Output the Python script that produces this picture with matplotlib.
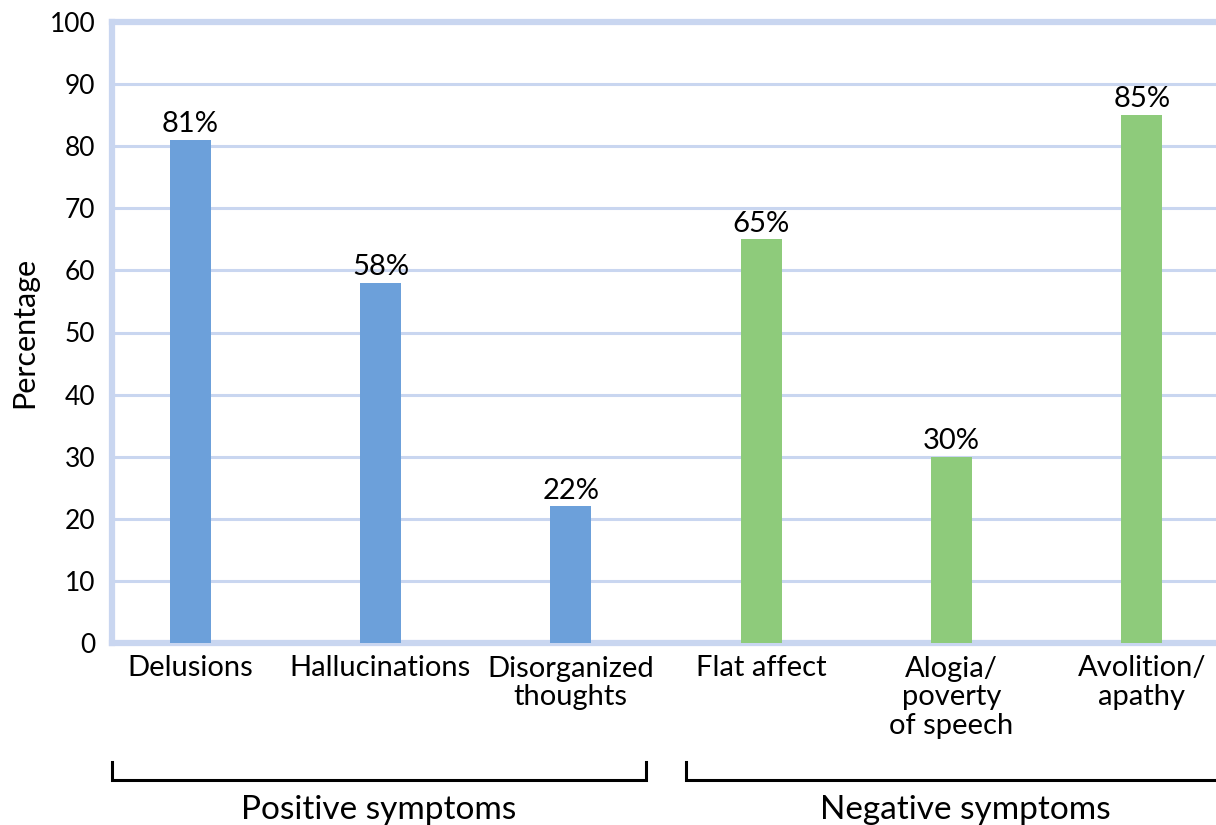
import matplotlib
matplotlib.use("Agg")
import matplotlib.pyplot as plt

# data
categories = ["Delusions", "Hallucinations", "Disorganized\nthoughts",
              "Flat affect", "Alogia/\npoverty\nof speech", "Avolition/\napathy"]
values = [81, 58, 22, 65, 30, 85]
groups = ["pos", "pos", "pos", "neg", "neg", "neg"]
group_names = ["Positive symptoms", "Negative symptoms"]

BLUE, GREEN = "#6ca0da", "#8ecb7b"
FRAME = "#c9d6f0"
plt.rcParams["font.family"] = ["Lato", "DejaVu Sans"]

fig = plt.figure(figsize=(12.16, 8.25), dpi=100)
ax = fig.add_axes([112 / 1216, 1 - 643 / 825, 1108 / 1216, 621 / 825])

xs = list(range(len(categories)))
colors = [BLUE if g == "pos" else GREEN for g in groups]
bars = ax.bar(xs, values, width=0.215, color=colors, zorder=3)
for b, v in zip(bars, values):
    ax.annotate(f"{v}%", (b.get_x() + b.get_width() / 2, v), xytext=(0, 2),
                textcoords="offset points", ha="center", va="bottom", fontsize=21)

ax.set_xlim(-0.41, 5.41)
ax.set_ylim(0, 100)
ax.set_yticks(range(0, 101, 10))
ax.set_xticks(xs)
ax.set_xticklabels(categories, fontsize=21, linespacing=1.12, va="top")
ax.tick_params(axis="y", labelsize=19, length=0, pad=12)
ax.tick_params(axis="x", length=0, pad=9)
ax.set_ylabel("Percentage", fontsize=22, labelpad=8)

ax.yaxis.grid(True, color=FRAME, lw=2.2, zorder=0)
for s in ["left", "top", "bottom"]:
    ax.spines[s].set_color(FRAME)
    ax.spines[s].set_linewidth(4.5)
ax.spines["right"].set_visible(False)

# group brackets under the labels
tr = ax.get_xaxis_transform()
y_line, y_tick = -0.2206, -0.1916
spans = [(-0.41, 2.395), (2.605, 5.6)]
for (x0, x1), name, closed in zip(spans, group_names, [True, False]):
    xs_b = [x0, x0, x1, x1] if closed else [x0, x0, x1]
    ys_b = [y_tick, y_line, y_line, y_tick] if closed else [y_tick, y_line, y_line]
    ax.plot(xs_b, ys_b, color="black", lw=2.2, transform=tr, clip_on=False,
            solid_joinstyle="miter")
    ax.text((x0 + x1) / 2 if closed else 4.07, y_line - 0.024, name, transform=tr,
            ha="center", va="top", fontsize=24)

fig.savefig("out.png", dpi=100)
